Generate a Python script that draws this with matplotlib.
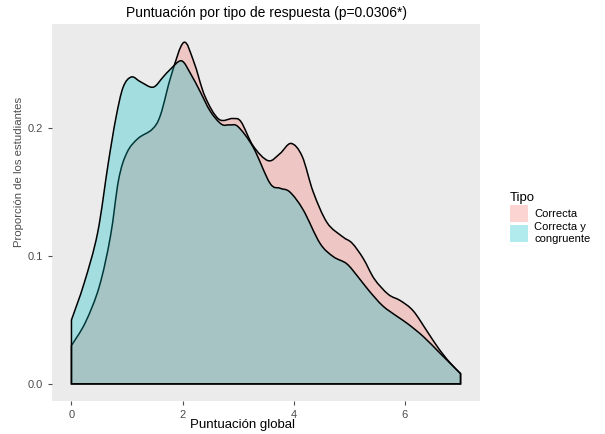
import numpy as np
import matplotlib.pyplot as plt
from matplotlib.patches import Patch, PathPatch
from matplotlib.path import Path
from matplotlib.colors import to_rgba

plt.rcParams['font.family'] = ['Liberation Sans', 'DejaVu Sans']

# density curves (x = puntuacion, y = proporcion)
x_correcta = [0, 0.25, 0.5, 0.7, 0.85, 1.0, 1.2, 1.45, 1.6, 1.8, 2.02, 2.2,
              2.4, 2.65, 2.9, 3.05, 3.27, 3.54, 3.75, 3.95, 4.15, 4.35, 4.6,
              4.88, 5.05, 5.25, 5.45, 5.7, 5.92, 6.15, 6.4, 6.6, 6.8, 7.0]
y_correcta = [0.030, 0.048, 0.076, 0.115, 0.160, 0.181, 0.192, 0.199, 0.210,
              0.242, 0.267, 0.252, 0.225, 0.207, 0.2075, 0.205, 0.186, 0.1745,
              0.180, 0.188, 0.178, 0.150, 0.126, 0.115, 0.110, 0.098, 0.082,
              0.070, 0.065, 0.057, 0.041, 0.028, 0.017, 0.008]
x_congruente = [0, 0.23, 0.47, 0.66, 0.8, 0.93, 1.08, 1.25, 1.47, 1.65, 1.78,
                1.98, 2.15, 2.31, 2.5, 2.7, 2.85, 3.0, 3.27, 3.57, 3.75, 3.93,
                4.17, 4.47, 4.71, 4.95, 5.15, 5.35, 5.6, 5.85, 6.05, 6.33,
                6.63, 7.0]
y_congruente = [0.050, 0.079, 0.118, 0.172, 0.208, 0.232, 0.240, 0.236, 0.232,
                0.240, 0.246, 0.2526, 0.242, 0.229, 0.213, 0.203, 0.2025,
                0.201, 0.185, 0.157, 0.153, 0.150, 0.136, 0.110, 0.0995,
                0.094, 0.084, 0.073, 0.061, 0.053, 0.047, 0.037, 0.024, 0.008]
series = ['Correcta', 'Correcta y\ncongruente']
colors = ['#F8766D', '#00BFC4']


def density_path(xs, ys):
    # closed outline, smooth bezier segments through the read points
    p = np.column_stack([xs, ys])
    verts = [(xs[0], 0), tuple(p[0])]
    codes = [Path.MOVETO, Path.LINETO]
    n = len(p)
    for i in range(n - 1):
        a = p[i - 1] if i > 0 else p[i]
        d = p[i + 2] if i + 2 < n else p[i + 1]
        c1 = p[i] + (p[i + 1] - a) / 6
        c2 = p[i + 1] - (d - p[i]) / 6
        verts += [tuple(c1), tuple(c2), tuple(p[i + 1])]
        codes += [Path.CURVE4] * 3
    verts += [(xs[-1], 0), (xs[0], 0)]
    codes += [Path.LINETO, Path.CLOSEPOLY]
    return Path(verts, codes)


W, H = 605, 434
fig = plt.figure(figsize=(W / 100, H / 100), dpi=100)
ax = fig.add_axes([52 / W, (H - 401) / H, (480 - 52) / W, (401 - 24) / H])
ax.set_facecolor('#EBEBEB')

for xs, ys, c in zip([x_correcta, x_congruente], [y_correcta, y_congruente],
                     colors):
    ax.add_patch(PathPatch(density_path(xs, ys), facecolor=to_rgba(c, 0.3),
                           edgecolor='black', lw=1.1))

ax.set_xlim(-0.35, 7.35)
ax.set_ylim(-0.0134, 0.2814)
ax.set_xticks([0, 2, 4, 6])
ax.set_yticks([0.0, 0.1, 0.2])
ax.set_yticklabels(['0.0', '0.1', '0.2'])
for s in ax.spines.values():
    s.set_visible(False)
ax.tick_params(colors='#4D4D4D', labelsize=8, length=3, width=0.8,
               labelcolor='#4D4D4D')

ax.set_title('Puntuación por tipo de respuesta (p=0.0306*)', fontsize=10,
             pad=5)
fig.text(242 / W, 1 - 425 / H, 'Puntuación global', fontsize=9.5,
         ha='center', va='center')
fig.text(19 / W, 1 - 172 / H, 'Proporción de los estudiantes', fontsize=8.2,
         color='#4D4D4D', rotation=90, ha='center', va='center')

handles = [Patch(facecolor=c, alpha=0.3, edgecolor='none') for c in colors]
leg = fig.legend(handles, series, title='Tipo', loc='upper left',
                 bbox_to_anchor=(500 / W, 1 - 182 / H), frameon=False,
                 fontsize=8, title_fontsize=9.5, handlelength=1.6,
                 handleheight=2.0, handletextpad=0.6, labelspacing=0.05)
leg._legend_box.align = 'left'

fig.savefig('out.png', dpi=100)
